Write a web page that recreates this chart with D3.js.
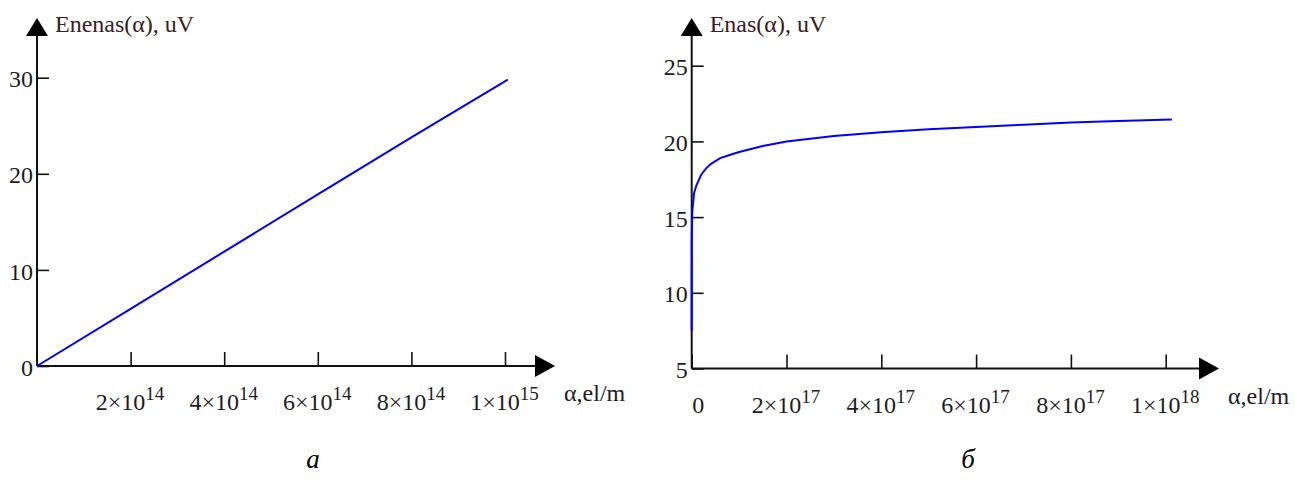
<!DOCTYPE html>
<html>
<head>
<meta charset="utf-8">
<script src="https://cdn.jsdelivr.net/npm/d3@7"></script>
<style>
  html, body { margin: 0; padding: 0; background: #fff; }
  svg { display: block; }
  text { font-family: "Liberation Serif", "Times New Roman", serif; }
</style>
</head>
<body>
<svg id="chart" width="1295" height="480"></svg>
<script>
// ---- Panel a: Enenas(α) ----
const alphaA = [0, 2e14, 4e14, 6e14, 8e14, 1.006e15];
const enenasA = [0, 5.95, 11.9, 17.85, 23.8, 29.8];
const xTicksA = [2e14, 4e14, 6e14, 8e14, 1e15];
const xTickLabelsA = [["2×10", "14"], ["4×10", "14"], ["6×10", "14"], ["8×10", "14"], ["1×10", "15"]];
const yTicksA = [0, 10, 20, 30];
const yTickLabelsA = ["0", "10", "20", "30"];

// ---- Panel б: Enas(α) ----
const alphaB = [0, 1e13, 1e14, 1e15, 5e15, 1e16, 2e16, 3e16, 4e16, 6e16, 8e16, 1e17, 1.5e17, 2e17, 3e17, 4e17, 5e17, 6e17, 7e17, 8e17, 9e17, 1.013e18];
const enasB = [7.5, 11.0, 13.3, 15.3, 16.6, 17.1, 17.8, 18.2, 18.5, 18.9, 19.1, 19.3, 19.7, 20.0, 20.35, 20.6, 20.8, 20.95, 21.1, 21.25, 21.35, 21.45];
const xTicksB = [0, 2e17, 4e17, 6e17, 8e17, 1e18];
const xTickLabelsB = [["0", ""], ["2×10", "17"], ["4×10", "17"], ["6×10", "17"], ["8×10", "17"], ["1×10", "18"]];
const yTicksB = [5, 10, 15, 20, 25];
const yTickLabelsB = ["5", "10", "15", "20", "25"];

const titles = ["Enenas(α), uV", "Enas(α), uV"];
const xTitle = "α,el/m";
const captions = ["а", "б"];

const svg = d3.select("#chart");

function panel(cfg) {
  const x = d3.scaleLinear().domain(cfg.xDomain).range(cfg.xRange);
  const y = d3.scaleLinear().domain(cfg.yDomain).range(cfg.yRange);
  const x0 = cfg.xRange[0], y0 = cfg.yRange[0];
  const g = svg.append("g");

  // x axis (ticks upward)
  const xa = g.append("g").attr("transform", `translate(0,${y0})`)
    .call(d3.axisBottom(x).tickValues(cfg.xTicks).tickSize(-14).tickFormat(""));
  xa.select(".domain").remove();
  xa.selectAll(".tick line").attr("stroke", "#111").attr("stroke-width", 1.6);
  xa.selectAll(".tick").each(function(d, i) {
    const lab = cfg.xLabels[i];
    const t = d3.select(this).append("text")
      .attr("y", 44).attr("fill", "#1c1c24")
      .attr("font-size", 24)
      .attr("text-anchor", lab[1] ? "middle" : "start")
      .attr("dx", lab[1] ? -1 : 0);
    t.append("tspan").text(lab[0]);
    if (lab[1]) t.append("tspan").attr("dy", -10).attr("font-size", 19).text(lab[1]);
  });

  // y axis (ticks inward)
  const ya = g.append("g").attr("transform", `translate(${x0},0)`)
    .call(d3.axisLeft(y).tickValues(cfg.yTicks).tickSize(-12).tickPadding(4)
      .tickFormat((d, i) => cfg.yLabels[i]));
  ya.select(".domain").remove();
  ya.selectAll(".tick line").attr("stroke", "#111").attr("stroke-width", 1.6);
  ya.selectAll(".tick text").attr("font-size", 24).attr("fill", "#1c1c24")
    .attr("font-family", "Liberation Serif, serif").attr("dy", "0.38em");

  // axis lines with arrows
  g.append("line").attr("x1", x0).attr("x2", cfg.xArrowBase).attr("y1", y0).attr("y2", y0)
    .attr("stroke", "#111").attr("stroke-width", 2);
  g.append("line").attr("x1", x0).attr("x2", x0).attr("y1", y0).attr("y2", 36)
    .attr("stroke", "#111").attr("stroke-width", 2);
  g.append("path")
    .attr("d", `M${cfg.xArrowBase},${y0 - 11}L${cfg.xArrowBase + 20},${y0}L${cfg.xArrowBase},${y0 + 11}Z`)
    .attr("fill", "#000");
  g.append("path")
    .attr("d", `M${x0 - 11},36L${x0},18L${x0 + 11},36Z`)
    .attr("fill", "#000");

  // data line
  const line = d3.line().x((d, i) => x(cfg.xs[i])).y(d => y(d));
  g.append("path").datum(cfg.ys).attr("d", line)
    .attr("fill", "none").attr("stroke", "#0000ff").attr("stroke-width", 2);

  // titles
  g.append("text").attr("x", x0 + 18).attr("y", 32).attr("font-size", 24)
    .attr("fill", "#3a2020").text(cfg.title);
  g.append("text").attr("x", cfg.xArrowBase + 29).attr("y", y0 + 35).attr("font-size", 24)
    .attr("fill", "#1c1c24").text(xTitle);
  g.append("text").attr("x", cfg.captionX).attr("y", 468).attr("font-size", 27)
    .attr("font-style", "italic").attr("text-anchor", "middle").attr("fill", "#000")
    .text(cfg.caption);
}

panel({
  xDomain: [0, 1e15], xRange: [37, 505],
  yDomain: [0, 30], yRange: [366, 77.7],
  xTicks: xTicksA, xLabels: xTickLabelsA,
  yTicks: yTicksA, yLabels: yTickLabelsA,
  xs: alphaA, ys: enenasA,
  xArrowBase: 535, title: titles[0], caption: captions[0], captionX: 313
});

panel({
  xDomain: [0, 1e18], xRange: [691.7, 1165.7],
  yDomain: [5, 25], yRange: [368.5, 65.7],
  xTicks: xTicksB, xLabels: xTickLabelsB,
  yTicks: yTicksB, yLabels: yTickLabelsB,
  xs: alphaB, ys: enasB,
  xArrowBase: 1199, title: titles[1], caption: captions[1], captionX: 968
});
</script>
</body>
</html>
